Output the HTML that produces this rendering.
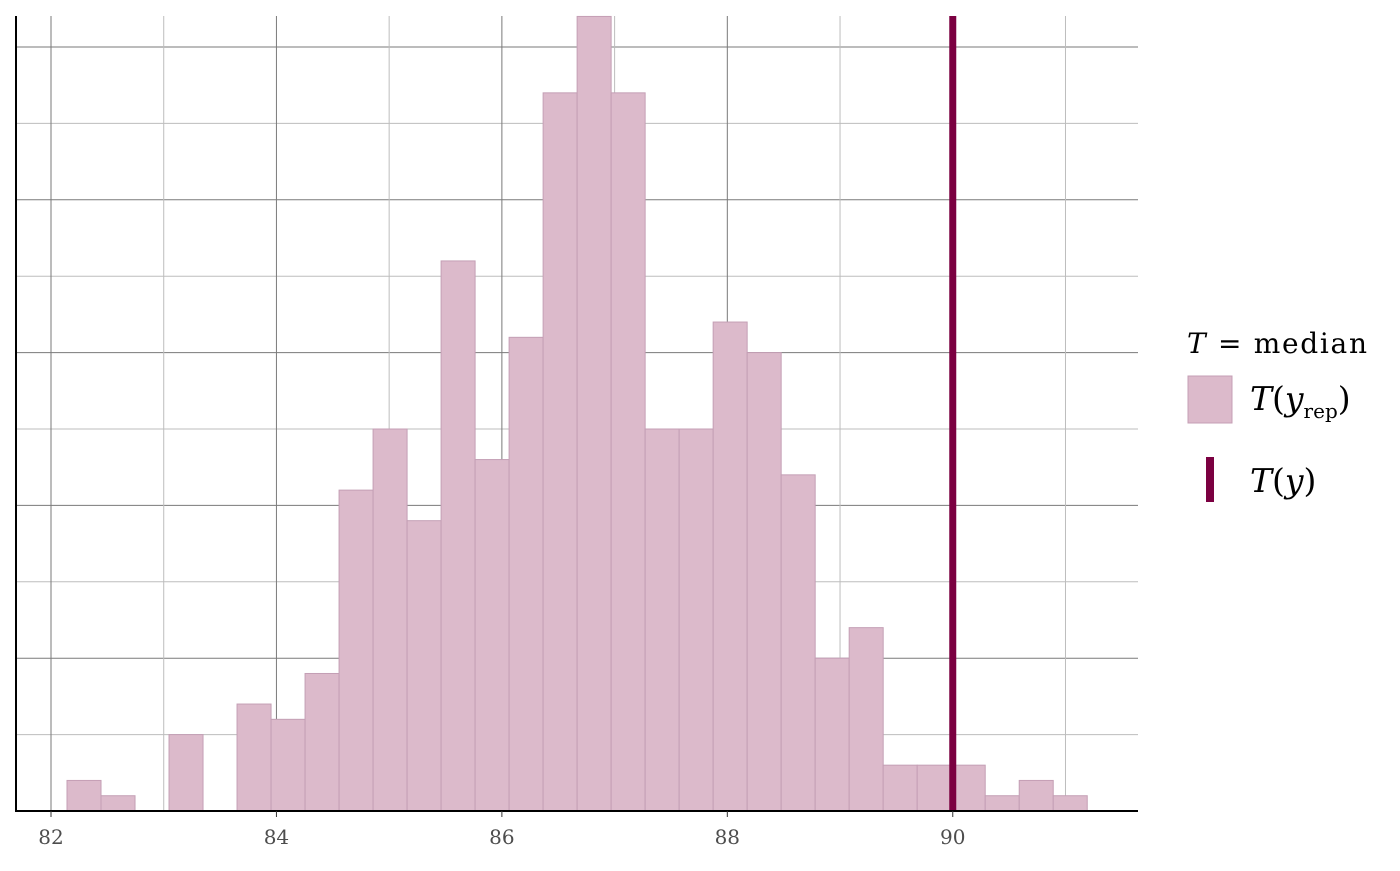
<!DOCTYPE html>
<html><head><meta charset="utf-8"><style>
body{margin:0;background:#fff;}
svg text{font-family:"DejaVu Serif","Liberation Serif",serif;}
</style></head><body>
<svg id="chart" width="1400" height="866" xmlns="http://www.w3.org/2000/svg">
<g id="grid"></g>
<g id="bars"></g>
<g id="axes"></g>
<g>
<text x="1187" y="353" font-size="28" textLength="180"><tspan font-style="italic">T</tspan> = median</text>
<rect x="1188" y="376" width="44" height="47" fill="#dcbacb" stroke="#c49fb5"/>
<text x="1250" y="410" font-size="33"><tspan font-style="italic">T</tspan>(<tspan font-style="italic">y</tspan><tspan font-size="20" dy="8">rep</tspan><tspan dy="-8">)</tspan></text>
<rect x="1206" y="457" width="8" height="45" fill="#7b0041"/>
<text x="1250" y="492" font-size="33"><tspan font-style="italic">T</tspan>(<tspan font-style="italic">y</tspan>)</text>
</g>
</svg>
<script>
const binStart = 82.142;
const binWidth = 0.3017;
const counts = [2,1,0,5,0,7,6,9,21,25,19,36,23,31,47,52,47,25,25,32,30,22,10,12,3,3,3,1,2,1];
const xTicks = [82,84,86,88,90];
const observed = 90.0;
const NS='http://www.w3.org/2000/svg';
const L=16,R=1138,T=16,B=811;
const xs=v=>51+(v-82)*112.72;
const ys=c=>B-c*15.28;
function mk(tag,attrs,parent){const e=document.createElementNS(NS,tag);for(const k in attrs)e.setAttribute(k,attrs[k]);parent.appendChild(e);return e;}
const grid=document.getElementById('grid'),bars=document.getElementById('bars'),axes=document.getElementById('axes');
for(let c=5;c<=50;c+=5){
 const l=mk('line',{x1:L,x2:R,y1:ys(c),y2:ys(c),stroke:c%10===0?'#7a7a7a':'#bdbdbd','stroke-width':1},grid);
 
 
}
for(let v=82;v<=91;v++){
 const l=mk('line',{x1:xs(v),x2:xs(v),y1:T,y2:B,stroke:v%2===0?'#7a7a7a':'#bdbdbd','stroke-width':1},grid);
 
 
}
counts.forEach((c,i)=>{
 if(c<=0)return;
 const x0=xs(binStart+i*binWidth),x1=xs(binStart+(i+1)*binWidth);
 const r=mk('rect',{x:x0,y:ys(c),width:x1-x0,height:B-ys(c),fill:'#dcbacb',stroke:'#c49fb5','stroke-width':1},bars);
 
 
});
const ol=mk('rect',{x:xs(observed)-3.5,y:T,width:7,height:B-T,fill:'#7b0041'},bars);


const ya=mk('line',{x1:L,x2:L,y1:T,y2:B+1,stroke:'#000','stroke-width':2},axes);


const xa=mk('line',{x1:L,x2:R,y1:B,y2:B,stroke:'#000','stroke-width':2},axes);


xTicks.forEach(v=>{
 const tk=mk('line',{x1:xs(v),x2:xs(v),y1:B,y2:B+6,stroke:'#333','stroke-width':1},axes);
 
 
 const t=mk('text',{x:xs(v),y:B+33,'text-anchor':'middle','font-size':20,fill:'#4d4d4d'},axes);
 t.textContent=v;
 
 
});
</script>
</body></html>
